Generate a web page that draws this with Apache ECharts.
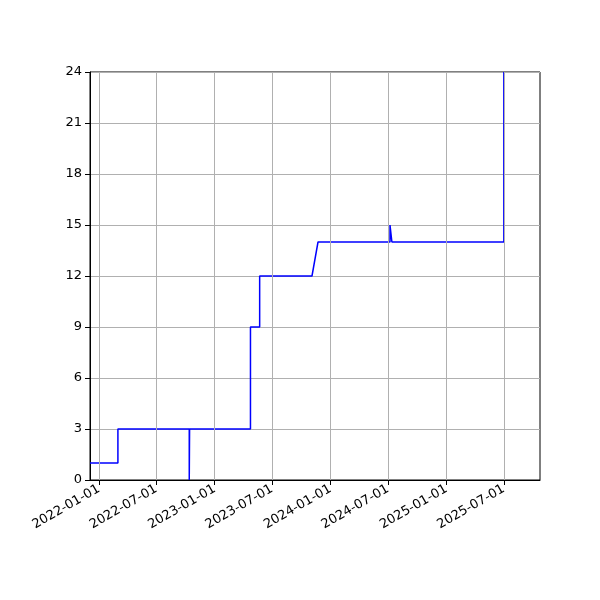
<!DOCTYPE html>
<html>
<head>
<meta charset="utf-8">
<script src="https://cdn.jsdelivr.net/npm/echarts@6/dist/echarts.min.js"></script>
<style>html,body{margin:0;padding:0;background:#fff}#chart{width:600px;height:600px}</style>
</head>
<body>
<div id="chart"></div>
<script>
// data
var dates = ['2021-12-04', '2022-03-02', '2022-03-02', '2022-10-13', '2022-10-13', '2022-10-14',
  '2023-04-24', '2023-04-24', '2023-05-23', '2023-05-23', '2023-11-04', '2023-11-23',
  '2024-07-07', '2024-07-07', '2024-07-13', '2024-07-13', '2025-07-01', '2025-07-01'];
var values = [1, 1, 3, 3, 0, 3, 3, 9, 9, 12, 12, 14, 14, 15, 15, 14, 14, 24];
var tickDates = ['2022-01-01', '2022-07-01', '2023-01-01', '2023-07-01',
  '2024-01-01', '2024-07-01', '2025-01-01', '2025-07-01'];

var chart = echarts.init(document.getElementById('chart'));
function ts(d) { return +new Date(d + 'T00:00:00Z'); }
var tickTimes = tickDates.map(ts);
var points = dates.map(function (d, i) { return [ts(d), values[i]]; });

chart.setOption({
  animation: false,
  grid: { left: 90, right: 60, top: 72, bottom: 120, show: true, borderColor: '#000', borderWidth: 1 },
  xAxis: {
    type: 'value',
    min: ts('2021-12-04'),
    max: ts('2025-10-23'),
    axisLine: { onZero: false, lineStyle: { color: '#000' } },
    axisTick: { customValues: tickTimes, lineStyle: { color: '#000' } },
    splitLine: { show: false },
    axisLabel: {
      customValues: tickTimes, rotate: 30, color: '#000', fontSize: 13,
      fontFamily: 'DejaVu Sans',
      formatter: function (v) { return new Date(v).toISOString().slice(0, 10); }
    }
  },
  yAxis: {
    type: 'value', min: 0, max: 24, interval: 3,
    axisLine: { show: true, lineStyle: { color: '#000' } },
    axisTick: { show: true, lineStyle: { color: '#000' } },
    splitLine: { lineStyle: { color: '#b0b0b0' } },
    axisLabel: { color: '#000', fontSize: 13, fontFamily: 'DejaVu Sans' }
  },
  series: [{
    type: 'line', data: points, showSymbol: false, z: 3,
    lineStyle: { color: '#0000ff', width: 1.5 },
    markLine: {
      silent: true, symbol: 'none', animation: false,
      label: { show: false },
      lineStyle: { color: '#b0b0b0', type: 'solid', width: 1 },
      data: tickTimes.map(function (t) { return { xAxis: t }; })
    }
  }]
});
</script>
</body>
</html>
